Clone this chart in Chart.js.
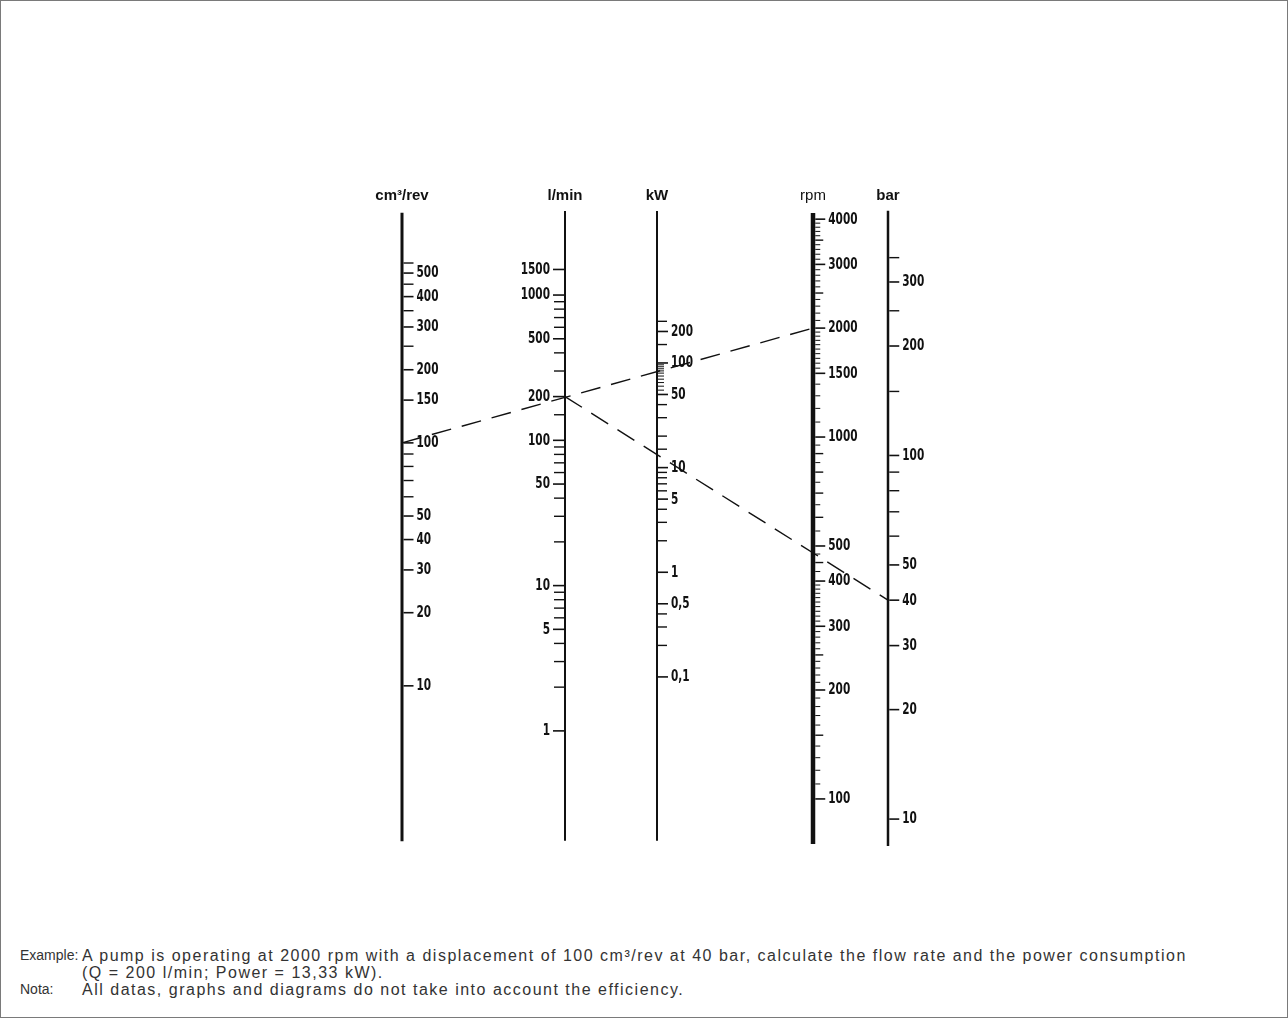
<!DOCTYPE html>
<html>
<head>
<meta charset="utf-8">
<title>Pump nomogram</title>
<script src="https://cdn.jsdelivr.net/npm/chart.js@4.4.1/dist/chart.umd.min.js"></script>
<style>
  html, body { margin: 0; padding: 0; background: #fff; }
  #frame { position: relative; width: 1286px; height: 1016px; border: 1px solid #7a7a7a; overflow: hidden; }
  #chartBox { position: absolute; left: 0; top: 0; width: 1286px; height: 920px; }
  #notes { position: absolute; left: 19px; top: 946px; font-family: "Liberation Sans", Arial, sans-serif;
           font-size: 16px; letter-spacing: 1.5px; line-height: 17px; color: #333; white-space: nowrap; }
  #notes .row { display: flex; }
  #notes .k { width: 62px; flex: none; font-size: 14px; letter-spacing: 0; }
</style>
</head>
<body>
<div id="frame">
  <div id="chartBox"><canvas id="nomo" width="1286" height="920"></canvas></div>
  <div id="notes">
    <div class="row"><span class="k">Example:</span><span>A pump is operating at 2000 rpm with a displacement of 100 cm³/rev at 40 bar, calculate the flow rate and the power consumption</span></div>
    <div class="row"><span class="k"></span><span>(Q = 200 l/min; Power = 13,33 kW).</span></div>
    <div class="row"><span class="k">Nota:</span><span>All datas, graphs and diagrams do not take into account the efficiency.</span></div>
  </div>
</div>

<script>
// ========== AXIS TITLES ==========
const axisTitles = ["cm³/rev", "l/min", "kW", "rpm", "bar"];

// ========== TICKS (values read off the scales) ==========
// displacement cm3/rev
const dispMajor = [500, 400, 300, 200, 150, 100, 50, 40, 30, 20, 10];
const dispMinor = [550, 450, 350, 250, 90, 80, 70, 60];

// flow l/min
const flowMajor = [1500, 1000, 500, 200, 100, 50, 10, 5, 1];
const flowMinor = [900, 800, 700, 600, 400, 300, 150, 90, 80, 70, 60, 40, 30, 20, 9, 8, 7, 6, 4, 3, 2];

// power kW
const powerMajor = [200, 100, 50, 10, 5, 1, 0.5, 0.1];
const powerLabels = ["200", "100", "50", "10", "5", "1", "0,5", "0,1"];
const powerMinor = [250, 150, 40, 30, 20, 15, 9, 8, 7, 6, 4, 3, 2, 0.4, 0.3, 0.2];
const powerFine = [96, 92, 88, 84, 80, 75, 70, 65, 60, 55];

// speed rpm
const speedMajor = [4000, 3000, 2000, 1500, 1000, 500, 400, 300, 200, 100];
const speedMinor = [3500, 2500, 900, 800, 700, 600, 450, 250, 150];
const speedFine = [
  3900, 3800, 3700, 3600, 3400, 3300, 3200, 3100,
  2900, 2800, 2700, 2600, 2400, 2300, 2200, 2100,
  1950, 1900, 1850, 1800, 1750, 1700, 1650, 1600, 1550,
  1400, 1300, 1200, 1100,
  950, 850, 750, 650, 550,
  475, 425,
  390, 380, 370, 360, 350, 340, 330, 320, 310,
  290, 280, 270, 260, 240, 230, 220, 210,
  190, 180, 170, 160, 140, 130, 120, 110
];

// pressure bar
const pressMajor = [300, 200, 100, 50, 40, 30, 20, 10];
const pressMinor = [350, 250, 150, 90, 80, 70, 60];

// ========== WORKED EXAMPLE ==========
// line 1: displacement -> speed, line 2: flow -> pressure
const exampleDisp = [100];
const exampleSpeed = [2000];
const exampleFlow = [200];
const examplePress = [40];

// ========== AXES LAYOUT ==========
const axesSpec = [
  { id: "disp",  title: axisTitles[0], at: 401, side: 1,  lw: 3,   bold: true,
    top: 885, bottom: 2.29, major: dispMajor, minor: dispMinor, fine: [], len: [10, 10, 0] },
  { id: "flow",  title: axisTitles[1], at: 564, side: -1, lw: 2,   bold: true,
    top: 3790, bottom: 0.175, major: flowMajor, minor: flowMinor, fine: [], len: [11, 10, 0] },
  { id: "power", title: axisTitles[2], at: 656, side: 1,  lw: 2,   bold: true,
    top: 2840, bottom: 0.00272, major: powerMajor, labels: powerLabels, minor: powerMinor, fine: powerFine, len: [10, 9, 6] },
  { id: "speed", title: axisTitles[3], at: 812, side: 1,  lw: 4.5, bold: false,
    top: 4160, bottom: 75.1, major: speedMajor, minor: speedMinor, fine: speedFine, len: [10, 8, 5] },
  { id: "press", title: axisTitles[4], at: 887, side: 1,  lw: 2.5, bold: true,
    top: 471, bottom: 8.43, major: pressMajor, minor: pressMinor, fine: [], len: [10, 10, 0] }
];

const INK = "#111";
const tickFont = 'bold 15px "DejaVu Sans Condensed", "Liberation Sans Narrow", sans-serif';

function drawTicks(ctx, scale, x, a, values, len, labels) {
  values.forEach((v, i) => {
    const y = scale.getPixelForValue(v);
    const x0 = x + a.side * a.lw / 2;
    const x1 = x0 + a.side * len;
    ctx.beginPath();
    ctx.moveTo(x0, y);
    ctx.lineTo(x1, y);
    ctx.stroke();
    if (labels) {
      // condensed look: squeeze the glyphs a little
      ctx.save();
      ctx.translate(x1 + a.side * 3, y + 0.5);
      ctx.scale(0.78, 1);
      ctx.fillText(labels[i], 0, 0);
      ctx.restore();
    }
  });
}

// ========== NOMOGRAM PLUGIN ==========
const nomogramPlugin = {
  id: "nomogram",
  afterDraw(chart) {
    const ctx = chart.ctx;
    const xs = chart.scales.x;
    ctx.save();
    ctx.strokeStyle = INK;
    ctx.fillStyle = INK;

    axesSpec.forEach((a) => {
      const s = chart.scales[a.id];
      const x = xs.getPixelForValue(a.at);

      // axis line
      ctx.lineWidth = a.lw;
      ctx.lineCap = "butt";
      ctx.beginPath();
      ctx.moveTo(x, s.getPixelForValue(a.top));
      ctx.lineTo(x, s.getPixelForValue(a.bottom));
      ctx.stroke();

      // ticks
      ctx.font = tickFont;
      ctx.textBaseline = "middle";
      ctx.textAlign = a.side > 0 ? "left" : "right";
      ctx.lineWidth = 1.6;
      drawTicks(ctx, s, x, a, a.major, a.len[0], a.labels || a.major.map(String));
      ctx.lineWidth = 1.4;
      drawTicks(ctx, s, x, a, a.minor, a.len[1]);
      ctx.lineWidth = 1;
      drawTicks(ctx, s, x, a, a.fine, a.len[2]);

      // title
      ctx.font = (a.bold ? "bold " : "") + '15px "Liberation Sans", Arial, sans-serif';
      ctx.textAlign = "center";
      ctx.textBaseline = "alphabetic";
      ctx.fillText(a.title, x, chart.chartArea.top - 1);
    });

    // worked example, dashed
    const pt = (id, v) => {
      const a = axesSpec.find((q) => q.id === id);
      return [xs.getPixelForValue(a.at), chart.scales[id].getPixelForValue(v)];
    };
    ctx.lineWidth = 1.4;
    ctx.setLineDash([20, 11]);
    [[pt("disp", exampleDisp[0]), pt("speed", exampleSpeed[0])],
     [pt("flow", exampleFlow[0]), pt("press", examplePress[0])]].forEach(([p, q]) => {
      ctx.beginPath();
      ctx.moveTo(p[0], p[1]);
      ctx.lineTo(q[0], q[1]);
      ctx.stroke();
    });
    ctx.restore();
  }
};

// ========== CHART ==========
new Chart(document.getElementById("nomo"), {
  type: "line",
  data: { datasets: [] },
  options: {
    responsive: false,
    animation: false,
    layout: { padding: { top: 200, bottom: 70, left: 0, right: 0 } },
    plugins: { legend: { display: false }, tooltip: { enabled: false } },
    scales: {
      x: { type: "linear", min: 0, max: 1286, display: false },
      disp: { type: "logarithmic", position: "left", min: 2.09, max: 990, display: false },
      flow: { type: "logarithmic", position: "left", min: 0.149, max: 4440, display: false },
      power: { type: "logarithmic", position: "left", min: 0.00217, max: 3530, display: false },
      speed: { type: "logarithmic", position: "left", min: 71.8, max: 4490, display: false },
      press: { type: "logarithmic", position: "left", min: 8.17, max: 501, display: false }
    }
  },
  plugins: [nomogramPlugin]
});
</script>
</body>
</html>
